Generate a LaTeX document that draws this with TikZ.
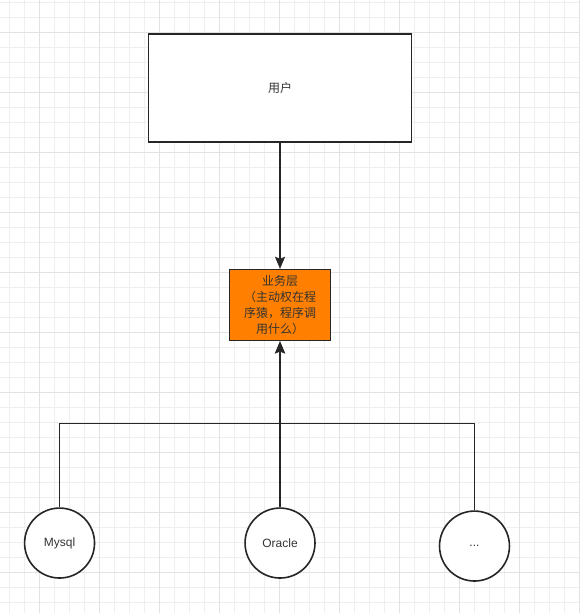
\documentclass[tikz,border=0pt]{standalone}
\usepackage{fontspec}
\setmainfont{Liberation Sans}
\newfontfamily\cjk{Noto Sans CJK SC}
\usetikzlibrary{positioning,arrows.meta}
\definecolor{bizorange}{HTML}{FF8000}
\definecolor{gridminor}{HTML}{EFEFEF}
\definecolor{gridmajor}{HTML}{E2E2E2}

\begin{document}
\begin{tikzpicture}[x=1pt, y=-1pt, font=\fontsize{12}{16}\selectfont,
        box/.style={draw=black!85, line width=1.6pt, align=center, fill=white, text=black!80},
        db/.style={draw=black!85, circle, line width=1.6pt, minimum size=70pt,
                   inner sep=0pt, fill=white, text=black!80},
        link/.style={draw=black!85, line width=1.6pt},
        tip/.style={-{Stealth[length=12pt,width=10pt,inset=2pt]}},
        node distance=126pt]
        % background grid
        \fill[white] (0,0) rectangle (579,613);
        \foreach \x in {9,24,...,579} \draw[gridminor] (\x,0) -- (\x,613);
        \foreach \y in {2,17,...,613} \draw[gridminor] (0,\y) -- (579,\y);
        \foreach \x in {39,99,...,579} \draw[gridmajor] (\x,0) -- (\x,613);
        \foreach \y in {32,92,...,613} \draw[gridmajor] (0,\y) -- (579,\y);

        \node[box, minimum width=263pt, minimum height=108pt] (user) at (280,88) {\cjk 用户};
        \node[box, fill=bizorange, minimum width=101pt, minimum height=71pt, inner sep=2pt,
              below=of user] (biz) {\cjk 业务层\\\cjk （主动权在程\\\cjk 序猿，程序调\\\cjk 用什么）};
        \node[db, below=166pt of biz] (oracle) {Oracle};
        \node[db, left=149pt of oracle] (mysql) {Mysql};
        \node[db, right=123pt of oracle, yshift=-3pt] (dots) {...};
        \coordinate[below=82pt of biz.south] (bus);

        \draw[link, tip] (user) -- (biz);
        \draw[link, tip] (mysql) |- (bus) -- (biz);
        \draw[link, tip] (oracle) -- (biz);
        \draw[link] (dots) |- (bus);
\end{tikzpicture}
\end{document}
